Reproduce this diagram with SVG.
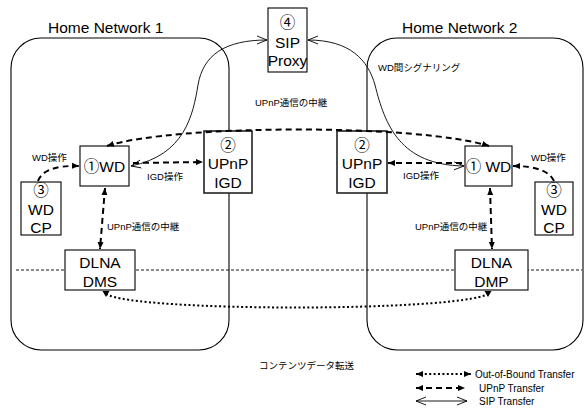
<svg xmlns="http://www.w3.org/2000/svg" width="585" height="409" viewBox="0 0 585 409">
  <style>
    .net { fill: none; stroke: #000; stroke-width: 1.1; }
    .box { fill: #fff; stroke: #000; stroke-width: 1.1; }
    .igd { fill: #fff; stroke: #222; stroke-width: 1.6; }
    .big { font-family: "Liberation Sans", "Noto Sans CJK JP", sans-serif; font-size: 15.5px; fill: #000; text-anchor: middle; }
    .title { font-family: "Liberation Sans", sans-serif; font-size: 15.5px; fill: #000; }
    .small { font-family: "Liberation Sans", "Noto Sans CJK JP", sans-serif; font-size: 9.5px; fill: #000; }
    .legend { font-family: "Liberation Sans", sans-serif; font-size: 10px; fill: #000; }
    .upnp { fill: none; stroke: #000; stroke-width: 2; stroke-dasharray: 6 4; }
    .sip { fill: none; stroke: #000; stroke-width: 0.9; }
    .oob { fill: none; stroke: #000; stroke-width: 2; stroke-dasharray: 2 2.4; }
    .border { fill: none; stroke: #000; stroke-width: 0.9; stroke-dasharray: 3 2; }
  </style>
  <defs>
    <marker id="head" markerUnits="userSpaceOnUse" markerWidth="8" markerHeight="7" refX="7" refY="3.5" orient="auto-start-reverse">
      <path d="M0,0.5 L7,3.5 L0,6.5 z" fill="#000"/>
    </marker>
    <marker id="chevron" markerUnits="userSpaceOnUse" markerWidth="11" markerHeight="10" refX="10" refY="5" orient="auto-start-reverse">
      <path d="M0,1 L10,5 L0,9" fill="none" stroke="#000" stroke-width="0.9"/>
    </marker>
    <marker id="drop" markerUnits="userSpaceOnUse" markerWidth="8" markerHeight="8" refX="3" refY="3.5" orient="90">
      <path d="M0,0 L6,3.5 L0,7 z" fill="#000"/>
    </marker>
  </defs>

  <!-- home network enclosures -->
  <g id="home-network-1">
    <rect class="net" x="11" y="38" width="218" height="312" rx="30" ry="30"/>
    <text class="title" x="48" y="33">Home Network 1</text>
  </g>
  <g id="home-network-2">
    <rect class="net" x="367" y="38" width="216" height="312" rx="30" ry="30"/>
    <text class="title" x="402" y="33">Home Network 2</text>
  </g>

  <!-- boundary between control and media layers -->
  <line class="border" x1="16" y1="270" x2="582" y2="270"/>

  <!-- nodes -->
  <g id="sip-proxy">
    <rect class="box" x="268" y="8" width="39" height="64"/>
    <text class="big" x="287.5" y="28">④</text>
    <text class="big" x="287.5" y="47.5">SIP</text>
    <text class="big" x="287.5" y="66">Proxy</text>
  </g>
  <g id="wd-1">
    <rect class="box" x="80" y="146" width="49" height="40"/>
    <text class="big" x="104.5" y="171.5">①WD</text>
  </g>
  <g id="igd-1">
    <rect class="igd" x="204" y="131" width="48" height="62"/>
    <text class="big" x="228" y="151">②</text>
    <text class="big" x="228" y="169">UPnP</text>
    <text class="big" x="228" y="188">IGD</text>
  </g>
  <g id="igd-2">
    <rect class="igd" x="337" y="131" width="50" height="62"/>
    <text class="big" x="362" y="151">②</text>
    <text class="big" x="362" y="169">UPnP</text>
    <text class="big" x="362" y="188">IGD</text>
  </g>
  <g id="wd-2">
    <rect class="box" x="465" y="146" width="47" height="40"/>
    <text class="big" x="488.5" y="171.5">① WD</text>
  </g>
  <g id="wdcp-1">
    <rect class="box" x="21" y="182" width="40" height="53"/>
    <text class="big" x="41" y="195.5">③</text>
    <text class="big" x="41" y="214.5">WD</text>
    <text class="big" x="41" y="233">CP</text>
  </g>
  <g id="wdcp-2">
    <rect class="box" x="535" y="182" width="38" height="53"/>
    <text class="big" x="554" y="195.5">③</text>
    <text class="big" x="554" y="214.5">WD</text>
    <text class="big" x="554" y="233">CP</text>
  </g>
  <g id="dlna-dms">
    <rect class="box" x="65" y="250" width="70" height="40"/>
    <text class="big" x="100" y="267.5">DLNA</text>
    <text class="big" x="100" y="286.5">DMS</text>
  </g>
  <g id="dlna-dmp">
    <rect class="box" x="455" y="250" width="73" height="40"/>
    <text class="big" x="491.5" y="267.5">DLNA</text>
    <text class="big" x="491.5" y="286.5">DMP</text>
  </g>

  <!-- connectors -->
  <g id="connectors">
    <!-- SIP signalling via the proxy -->
    <path class="sip" d="M131,166 C185,155 193,115 198,85 C203,55 225,40 267,40" marker-start="url(#chevron)" marker-end="url(#chevron)"/>
    <path class="sip" d="M308,40 C350,40 368,60 375,85 C385,125 400,165 464,166" marker-start="url(#chevron)" marker-end="url(#chevron)"/>
    <!-- UPnP relay between the two WDs -->
    <path class="upnp" d="M107,146 C175,124 420,124 489,146" marker-start="url(#head)" marker-end="url(#head)"/>
    <!-- IGD control -->
    <path class="upnp" d="M133,163 L203,162" marker-end="url(#head)"/>
    <path class="upnp" d="M462,163 L388,163" marker-end="url(#head)"/>
    <!-- WD control from the CPs -->
    <path class="upnp" d="M38,181 Q44,165 79,166" marker-end="url(#head)"/>
    <path class="upnp" d="M554,181 Q547,166 513,166" marker-end="url(#head)"/>
    <!-- UPnP relay to the DLNA devices -->
    <path class="upnp" d="M105,188 L100,249" marker-start="url(#head)" marker-end="url(#head)"/>
    <path class="upnp" d="M490,188 L492,249" marker-start="url(#head)" marker-end="url(#head)"/>
    <!-- content transfer -->
    <path class="oob" d="M106,294 C135,312 455,312 488,294" marker-start="url(#drop)" marker-end="url(#drop)"/>
  </g>

  <!-- connector labels -->
  <g id="labels">
    <text class="small" x="255" y="106">UPnP通信の中継</text>
    <text class="small" x="378" y="71">WD間シグナリング</text>
    <text class="small" x="32" y="160.5">WD操作</text>
    <text class="small" x="147" y="180">IGD操作</text>
    <text class="small" x="403" y="179">IGD操作</text>
    <text class="small" x="531" y="160.5">WD操作</text>
    <text class="small" x="107" y="229.5">UPnP通信の中継</text>
    <text class="small" x="415" y="229.5">UPnP通信の中継</text>
    <text class="small" x="259" y="368.5">コンテンツデータ転送</text>
  </g>

  <!-- legend -->
  <g id="legend">
    <path class="oob" d="M416,374 L471,374" marker-start="url(#head)" marker-end="url(#head)"/>
    <text class="legend" x="475" y="378">Out-of-Bound Transfer</text>
    <path class="upnp" d="M416,388 L465,388" marker-start="url(#head)" marker-end="url(#head)"/>
    <text class="legend" x="479" y="392">UPnP Transfer</text>
    <path class="sip" d="M416,401 L467,401" marker-start="url(#chevron)" marker-end="url(#chevron)"/>
    <text class="legend" x="479" y="405">SIP Transfer</text>
  </g>
</svg>
